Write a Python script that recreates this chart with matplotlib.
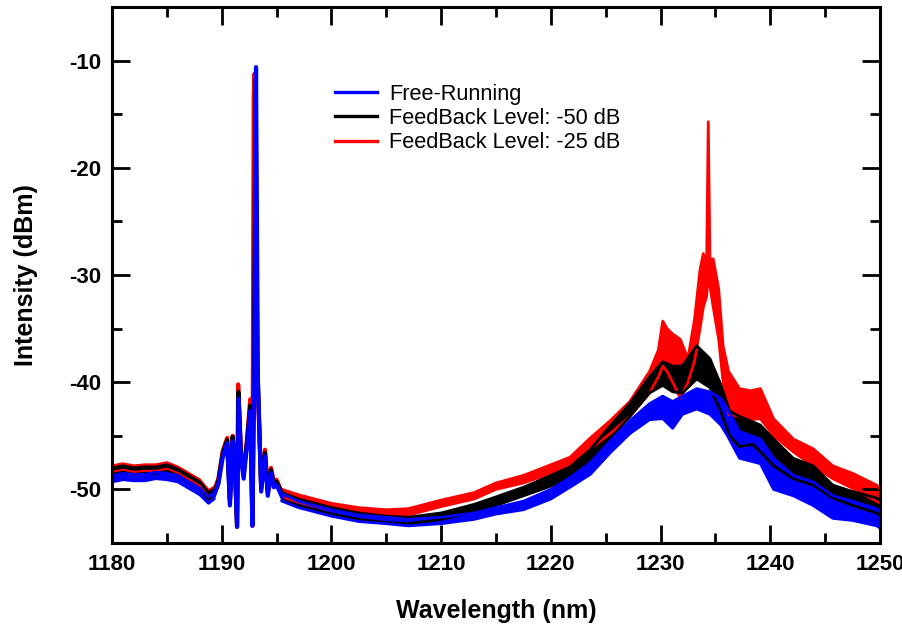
import matplotlib
matplotlib.use("Agg")
import matplotlib.pyplot as plt
import numpy as np
from matplotlib.lines import Line2D

plt.rcParams['font.family'] = ['Liberation Sans', 'DejaVu Sans']
plt.rcParams['axes.unicode_minus'] = False

# ---------------- data ----------------
series_names = ["Free-Running", "FeedBack Level: -50 dB", "FeedBack Level: -25 dB"]
series_colors = ["#0000ff", "#000000", "#ff0000"]

# left part (1180 - 1189.3 nm): upper / lower envelope of the ripple
left_wl = [1180, 1181, 1182, 1183, 1184, 1185, 1186, 1187, 1188, 1188.8, 1189.3]
blue_left_hi = [-48.7, -48.5, -48.6, -48.6, -48.4, -48.5, -48.7, -49.3, -49.9, -50.7, -50.3]
blue_left_lo = [-49.3, -49.1, -49.2, -49.2, -49.0, -49.1, -49.3, -49.9, -50.5, -51.3, -50.9]
black_left_hi = [-48.0, -47.8, -48.0, -47.9, -47.9, -47.7, -48.1, -48.7, -49.3, -50.3, -50.0]
black_left_lo = [-48.6, -48.4, -48.6, -48.5, -48.5, -48.3, -48.7, -49.3, -49.9, -50.9, -50.6]
red_left_hi = [-47.8, -47.6, -47.8, -47.7, -47.7, -47.5, -47.9, -48.5, -49.1, -50.1, -49.8]
red_left_lo = [-48.4, -48.2, -48.4, -48.3, -48.3, -48.1, -48.5, -49.1, -49.7, -50.7, -50.4]

# lasing region (1189.3 - 1195.5 nm): explicit trace
blue_spk_wl = [1189.3, 1189.7, 1190.1, 1190.5, 1190.75, 1191.0, 1191.2, 1191.4, 1191.55,
               1191.75, 1192.0, 1192.3, 1192.6, 1192.8, 1192.97, 1193.13, 1193.3, 1193.6,
               1193.95, 1194.2, 1194.5, 1194.75, 1195.0, 1195.5]
blue_spk = [-50.6, -49.5, -47.0, -45.7, -51.5, -45.5, -48.0, -53.5, -41.5,
            -47.0, -49.0, -46.0, -42.7, -53.4, -40.0, -10.6, -40.0, -50.2,
            -46.9, -50.6, -48.5, -49.8, -49.6, -50.7]
black_spk_wl = [1189.3, 1189.7, 1190.1, 1190.5, 1190.75, 1191.0, 1191.2, 1191.4, 1191.52,
                1191.75, 1192.0, 1192.3, 1192.6, 1192.8, 1192.95, 1193.08, 1193.25, 1193.6,
                1193.95, 1194.2, 1194.5, 1194.75, 1195.0, 1195.5]
black_spk = [-50.3, -49.2, -46.6, -45.4, -51.2, -45.1, -47.6, -53.2, -40.9,
             -46.6, -48.7, -45.6, -42.2, -53.1, -38.0, -11.8, -38.0, -49.9,
             -46.6, -50.3, -48.2, -49.5, -49.3, -50.4]
red_spk_wl = [1189.3, 1189.7, 1190.1, 1190.5, 1190.75, 1191.0, 1191.2, 1191.4, 1191.5,
              1191.75, 1192.0, 1192.3, 1192.6, 1192.8, 1192.92, 1193.0, 1193.05, 1193.2, 1193.6,
              1193.95, 1194.2, 1194.5, 1194.75, 1195.0, 1195.5]
red_spk = [-50.1, -49.0, -46.4, -45.2, -51.0, -45.0, -47.4, -53.5, -40.2,
           -46.4, -48.5, -45.4, -41.6, -53.4, -13.3, -11.2, -13.0, -38.0, -49.7,
           -46.3, -50.1, -48.0, -49.3, -49.1, -50.3]

# right part (1195.5 - 1250 nm): upper / lower envelope of the ripple
blue_right_wl = [1195.5, 1197, 1200, 1202.5, 1205, 1207, 1210, 1213, 1215, 1217.5, 1220,
                 1221.75, 1223.6, 1225.4, 1227.2, 1229.0, 1230.2, 1231.1, 1232.0, 1233.3,
                 1234.5, 1235.5, 1236.1, 1237.2, 1239.1, 1240.3, 1242.1, 1243.9, 1245.7,
                 1247.5, 1249.7, 1250]
blue_right_hi = [-50.4, -51.1, -51.9, -52.4, -52.6, -52.8, -52.6, -52.2, -51.7, -51.1, -50.0,
                 -48.9, -47.5, -45.5, -43.6, -42.0, -41.3, -41.8, -41.3, -40.6,
                 -40.9, -41.5, -42.5, -44.6, -45.3, -47.1, -48.7, -49.3, -50.6,
                 -51.1, -51.8, -52.0]
blue_right_lo = [-51.1, -51.7, -52.5, -53.0, -53.2, -53.4, -53.2, -52.8, -52.3, -51.9, -50.9,
                 -49.8, -48.6, -46.6, -44.8, -43.5, -43.4, -44.3, -43.0, -42.5,
                 -43.0, -44.0, -45.0, -47.1, -47.6, -50.0, -50.6, -51.5, -52.7,
                 -52.9, -53.4, -53.6]
black_right_wl = [1195.5, 1197, 1200, 1202.5, 1205, 1207, 1210, 1213, 1215, 1217.5, 1220,
                  1221.75, 1223.6, 1225.4, 1227.2, 1229.0, 1230.2, 1231.1, 1232.0, 1233.3,
                  1234.5, 1235.4, 1236.3, 1237.2, 1238.4, 1239.1, 1240.3, 1242.1, 1243.9,
                  1245.7, 1247.5, 1249.7, 1250]
black_right_hi = [-50.3, -50.9, -51.7, -52.2, -52.5, -52.6, -52.2, -51.4, -50.7, -49.8, -48.7,
                  -47.9, -46.3, -44.1, -42.0, -39.5, -38.1, -38.5, -38.5, -36.6,
                  -37.8, -40.0, -42.7, -43.2, -43.7, -44.0, -45.3, -47.1, -47.8,
                  -49.6, -50.2, -50.8, -51.0]
black_right_lo = [-51.0, -51.5, -52.3, -52.8, -53.1, -53.2, -52.8, -52.1, -51.5, -50.6, -49.7,
                  -48.8, -47.4, -45.3, -43.2, -41.0, -40.3, -40.9, -41.0, -39.7,
                  -40.5, -42.5, -45.0, -46.0, -45.8, -46.5, -47.8, -49.0, -49.6,
                  -50.8, -51.5, -52.2, -52.4]
red_right_wl = [1195.5, 1197, 1200, 1202.5, 1205, 1207, 1210, 1213, 1215, 1217.5, 1220,
                1221.75, 1223.6, 1225.4, 1227.2, 1229.0, 1229.8, 1230.2, 1230.6, 1231.1,
                1231.8, 1232.5, 1233.1, 1233.6, 1233.9, 1234.2, 1234.35, 1234.5, 1234.8,
                1235.3, 1235.7, 1236.2, 1237.2, 1238.2, 1239.1, 1240.3, 1242.1, 1243.9,
                1245.7, 1247.5, 1249.7, 1250]
red_right_hi = [-50.0, -50.5, -51.3, -51.7, -51.9, -51.8, -51.0, -50.3, -49.4, -48.7, -47.7,
                -47.0, -45.2, -43.6, -41.8, -39.0, -37.0, -34.3, -35.0, -35.5,
                -36.0, -37.8, -34.1, -29.5, -28.0, -29.0, -15.7, -28.5, -28.5,
                -31.3, -36.6, -39.0, -40.6, -40.8, -40.6, -43.4, -45.3, -46.2,
                -47.8, -48.5, -49.6, -50.0]
red_right_lo = [-50.7, -51.2, -51.9, -52.3, -52.5, -52.4, -51.6, -50.9, -50.0, -49.4, -48.5,
                -47.9, -46.2, -44.8, -43.2, -41.0, -39.5, -38.5, -39.0, -40.0,
                -41.5, -40.0, -38.0, -35.0, -33.0, -32.0, -30.0, -31.0, -33.0,
                -36.0, -40.0, -43.0, -43.2, -43.5, -43.4, -45.0, -46.5, -47.8,
                -49.0, -49.9, -51.1, -51.3]

x_ticks = [1180, 1190, 1200, 1210, 1220, 1230, 1240, 1250]
y_ticks = [-10, -20, -30, -40, -50]

# ---------------- figure ----------------
fig = plt.figure(figsize=(9.03, 6.26), dpi=100)
ax = fig.add_axes([0.124, 0.1326, 0.8505, 0.8562])

series = [
    (red_left_hi, red_left_lo, red_spk_wl, red_spk, red_right_wl, red_right_hi, red_right_lo, series_colors[2]),
    (black_left_hi, black_left_lo, black_spk_wl, black_spk, black_right_wl, black_right_hi, black_right_lo, series_colors[1]),
    (blue_left_hi, blue_left_lo, blue_spk_wl, blue_spk, blue_right_wl, blue_right_hi, blue_right_lo, series_colors[0]),
]
for lhi, llo, swl, sv, rwl, rhi, rlo, col in series:
    ax.fill_between(left_wl, llo, lhi, color=col, lw=0)
    ax.plot(left_wl, lhi, color=col, lw=2.0)
    ax.plot(left_wl, llo, color=col, lw=2.0)
    ax.fill_between(rwl, rlo, rhi, color=col, lw=0)
    ax.plot(rwl, rhi, color=col, lw=2.0)
    ax.plot(rwl, rlo, color=col, lw=2.0)
    ax.plot(swl, sv, color=col, lw=3.0)

leg_handles = [Line2D([], [], color=c, lw=2.4) for c in series_colors]
ax.legend(leg_handles, series_names, loc='upper left', bbox_to_anchor=(0.29, 0.857),
          frameon=False, fontsize=15.7, handlelength=1.95, handletextpad=0.55,
          labelspacing=0.15, borderpad=0, borderaxespad=0)

ax.set_xlim(1180, 1250)
ax.set_ylim(-55, -5)
ax.set_xticks(x_ticks)
ax.set_yticks(y_ticks)
ax.set_xticks(np.arange(1185, 1250, 10), minor=True)
ax.set_yticks([-15, -25, -35, -45], minor=True)
ax.tick_params(which='major', direction='in', length=13, width=2, top=True, right=True,
               labelsize=16, pad=8)
ax.tick_params(which='minor', direction='in', length=7, width=2, top=True, right=True)
for lab in ax.get_xticklabels() + ax.get_yticklabels():
    lab.set_fontweight('bold')
for s in ax.spines.values():
    s.set_linewidth(2.2)

ax.set_xlabel("Wavelength (nm)", fontsize=18, fontweight='bold', labelpad=17)
ax.set_ylabel("Intensity (dBm)", fontsize=18, fontweight='bold', labelpad=22)

fig.savefig("out.png", dpi=100)
